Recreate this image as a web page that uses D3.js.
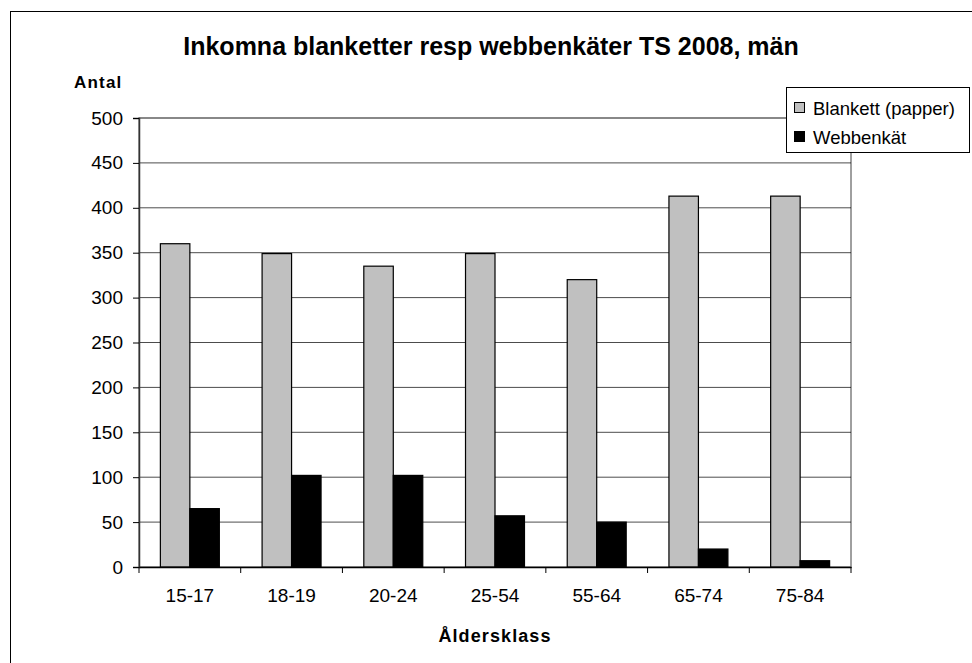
<!DOCTYPE html>
<html>
<head>
<meta charset="utf-8">
<script src="https://cdn.jsdelivr.net/npm/d3@7"></script>
<style>
  body { margin: 0; background: #fff; }
  svg { font-family: "Liberation Sans", Arial, sans-serif; }
</style>
</head>
<body>
<div id="chart"></div>
<script>
// data
const categories = ["15-17", "18-19", "20-24", "25-54", "55-64", "65-74", "75-84"];
const blankett = [360, 349, 335, 349, 320, 413, 413];
const webbenkat = [65, 102, 102, 57, 50, 20, 7];
const seriesNames = ["Blankett (papper)", "Webbenkät"];
const seriesColors = ["#c0c0c0", "#000000"];
const yTicks = [0, 50, 100, 150, 200, 250, 300, 350, 400, 450, 500];

const width = 972, height = 663;
const margin = { top: 118, right: 121, bottom: 96, left: 139 };
const innerW = width - margin.left - margin.right;
const innerH = height - margin.top - margin.bottom;

const svg = d3.select("#chart").append("svg")
  .attr("width", width)
  .attr("height", height);

// outer chart frame
svg.append("rect")
  .attr("x", 10.5).attr("y", 11.5)
  .attr("width", 975).attr("height", 670)
  .attr("fill", "none").attr("stroke", "#000").attr("stroke-width", 1);

const g = svg.append("g")
  .attr("transform", `translate(${margin.left},${margin.top})`);

const x = d3.scaleBand().domain(categories).range([0, innerW]);
const y = d3.scaleLinear().domain([0, 500]).range([innerH, 0]);
const barW = x.bandwidth() / 3.45;

// plot area frame
g.append("rect")
  .attr("x", 0).attr("y", 0)
  .attr("width", innerW).attr("height", innerH)
  .attr("fill", "none").attr("stroke", "#808080").attr("stroke-width", 1.5);

// gridlines
g.selectAll("line.grid")
  .data(yTicks.filter(d => d > 0))
  .join("line")
  .attr("class", "grid")
  .attr("x1", 0).attr("x2", innerW)
  .attr("y1", d => y(d)).attr("y2", d => y(d))
  .attr("stroke", d => d === 500 ? "#808080" : "#000")
  .attr("stroke-width", d => d === 500 ? 1.5 : 1)
  .attr("stroke-opacity", d => d === 500 ? 1 : 0.7);

const rows = categories.map((c, i) => ({ cat: c, vals: [blankett[i], webbenkat[i]] }));

const groups = g.selectAll("g.cat")
  .data(rows)
  .join("g")
  .attr("class", "cat")
  .attr("transform", d => `translate(${x(d.cat) + x.bandwidth() / 2},0)`);

groups.selectAll("rect")
  .data(d => d.vals.map((v, k) => ({ v, k })))
  .join("rect")
  .attr("x", d => (d.k === 0 ? -barW : 0))
  .attr("y", d => y(d.v))
  .attr("width", barW)
  .attr("height", d => innerH - y(d.v))
  .attr("fill", d => seriesColors[d.k])
  .attr("stroke", "#000")
  .attr("stroke-width", 1.2);

// y axis
const yAxis = g.append("g")
  .call(d3.axisLeft(y).tickValues(yTicks).tickSize(6).tickPadding(10));
yAxis.select(".domain").attr("stroke", "#333").attr("stroke-width", 1.5);
yAxis.selectAll("text").attr("font-size", 19).attr("fill", "#000")
  .attr("font-family", "Liberation Sans, Arial, sans-serif");

// x axis
const xAxis = g.append("g")
  .attr("transform", `translate(0,${innerH})`)
  .call(d3.axisBottom(x).tickSize(0).tickPadding(22));
xAxis.select(".domain").attr("stroke", "#000").attr("stroke-width", 1.5);
xAxis.selectAll("text").attr("font-size", 19).attr("fill", "#000")
  .attr("font-family", "Liberation Sans, Arial, sans-serif");
xAxis.selectAll("line.sep")
  .data(d3.range(categories.length + 1))
  .join("line")
  .attr("class", "sep")
  .attr("x1", i => i * x.step()).attr("x2", i => i * x.step())
  .attr("y1", 0).attr("y2", 6)
  .attr("stroke", "#000");

// titles
svg.append("text")
  .attr("x", 491).attr("y", 55)
  .attr("text-anchor", "middle")
  .attr("font-size", 25).attr("font-weight", "bold")
  .text("Inkomna blanketter resp webbenkäter TS 2008, män");

svg.append("text")
  .attr("x", 74).attr("y", 88)
  .attr("font-size", 17).attr("font-weight", "bold")
  .attr("letter-spacing", 1.2)
  .text("Antal");

svg.append("text")
  .attr("x", 495).attr("y", 642)
  .attr("text-anchor", "middle")
  .attr("font-size", 18).attr("font-weight", "bold")
  .attr("letter-spacing", 1.1)
  .text("Åldersklass");

// legend
const legend = svg.append("g").attr("transform", "translate(786,87)");
legend.append("rect")
  .attr("x", 0.5).attr("y", 0.5)
  .attr("width", 183).attr("height", 65)
  .attr("fill", "#fff").attr("stroke", "#000");
seriesNames.forEach((name, i) => {
  const row = legend.append("g").attr("transform", `translate(8,${21 + i * 29})`);
  row.append("rect")
    .attr("x", 0.5).attr("y", -5.5)
    .attr("width", 10).attr("height", 10)
    .attr("fill", seriesColors[i]).attr("stroke", "#000");
  row.append("text")
    .attr("x", 19).attr("y", 6.5)
    .attr("font-size", 18.5)
    .text(name);
});
</script>
</body>
</html>
